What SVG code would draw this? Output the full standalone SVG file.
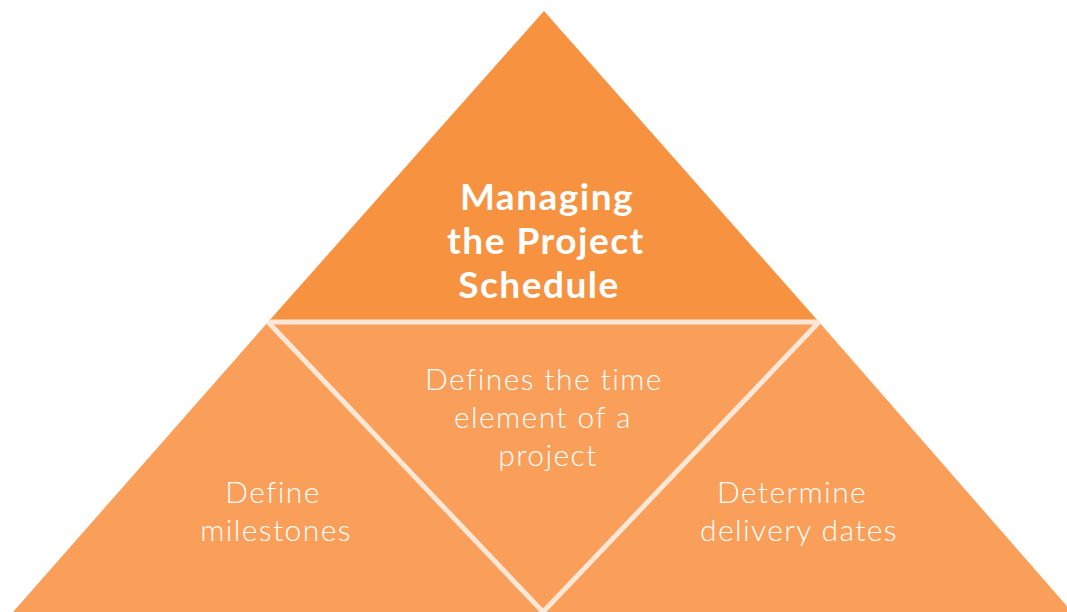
<svg xmlns="http://www.w3.org/2000/svg" width="1067" height="612" viewBox="0 0 1067 612">
<style>
.title{font-family:Lato,"Noto Sans",sans-serif;font-weight:700;font-size:37px;letter-spacing:1.5px;fill:#fff;text-anchor:middle}
.lbl{font-family:Lato,"Noto Sans",sans-serif;font-weight:300;font-size:30px;letter-spacing:1.4px;fill:#fff;text-anchor:middle}
.sep{stroke:#FDE7D6;stroke-width:5;fill:none;stroke-linecap:butt}
</style>
<rect width="1067" height="612" fill="#fff"/>
<g id="left">
<polygon points="268,322 13,612 543,612" fill="#F99F5A"/>
<text class="lbl" x="273" y="503">Define</text>
<text class="lbl" x="276" y="541">milestones</text>
</g>
<g id="right">
<polygon points="819,322 1072,612 543,612" fill="#F99F5A"/>
<text class="lbl" x="792" y="503">Determine</text>
<text class="lbl" x="799" y="541">delivery dates</text>
</g>
<g id="center">
<polygon points="268,322 819,322 543,612" fill="#F99F5A"/>
<text class="lbl" x="544" y="390">Defines the time</text>
<text class="lbl" x="543" y="428">element of a</text>
<text class="lbl" x="548" y="466">project</text>
</g>
<g id="top">
<polygon points="544,11 819,322 268,322" fill="#F79241"/>
<text class="title" x="547" y="210">Managing</text>
<text class="title" x="546" y="254">the Project</text>
<text class="title" x="539" y="298">Schedule</text>
</g>
<g id="connectors">
<line class="sep" x1="268" y1="322" x2="819" y2="322"/>
<line class="sep" x1="268" y1="322" x2="543" y2="612"/>
<line class="sep" x1="819" y1="322" x2="543" y2="612"/>
</g>
</svg>
